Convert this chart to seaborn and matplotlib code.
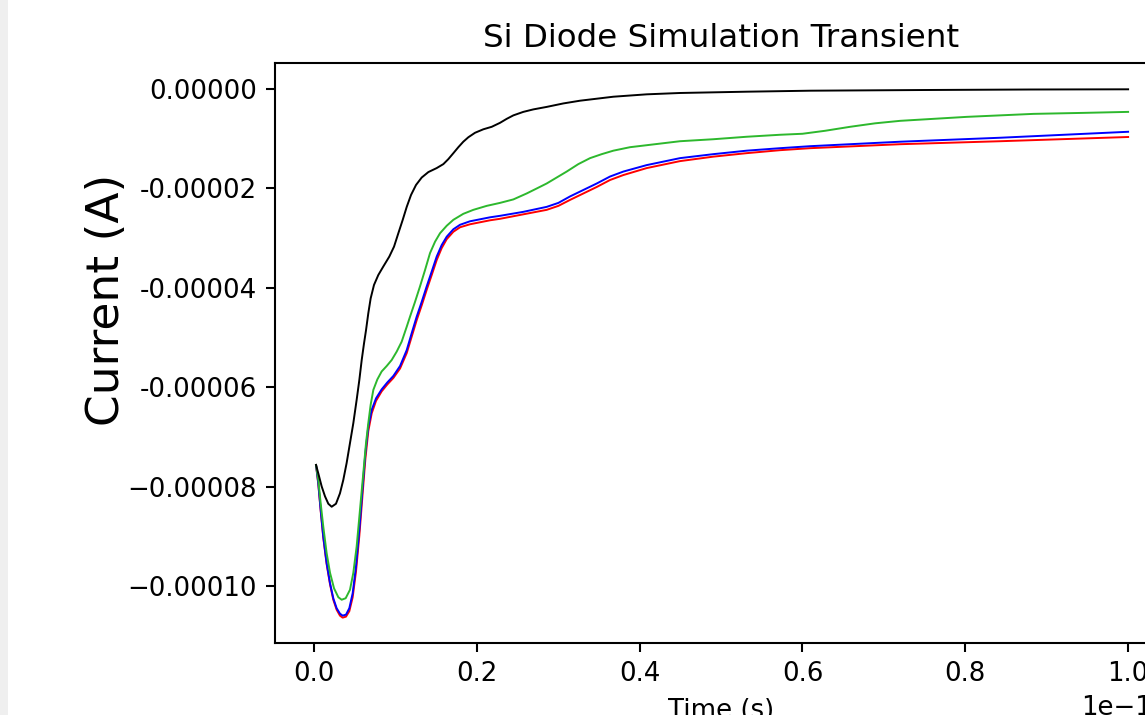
import numpy as np
import matplotlib
matplotlib.use("Agg")
import matplotlib.pyplot as plt
import seaborn as sns
from matplotlib.patches import Rectangle

# time in units of 1e-10 s, current in units of 1e-5 A
t_black = [0.0025, 0.0053, 0.0094, 0.0135, 0.0176, 0.0217, 0.027, 0.0319, 0.036, 0.0401,
           0.0442, 0.0483, 0.0524, 0.0557, 0.0586, 0.0614, 0.0639, 0.0667, 0.0696, 0.0737,
           0.079, 0.0851, 0.0925, 0.0983, 0.1036, 0.109, 0.1139, 0.1192, 0.1253, 0.1323,
           0.1405, 0.1507, 0.1589, 0.165, 0.1712, 0.1773, 0.1834, 0.1896, 0.1978, 0.208,
           0.2183, 0.2285, 0.2367, 0.2449, 0.2571, 0.2694, 0.2858, 0.3063, 0.3268, 0.3473,
           0.3677, 0.4087, 0.4496, 0.4905, 0.5315, 0.6093, 0.75, 0.88, 1.0]
i_black = [-7.56, -7.73, -7.99, -8.19, -8.34, -8.40, -8.34, -8.13, -7.86, -7.52,
           -7.12, -6.72, -6.25, -5.85, -5.45, -5.12, -4.85, -4.51, -4.21, -3.94,
           -3.74, -3.57, -3.37, -3.17, -2.90, -2.63, -2.37, -2.13, -1.93, -1.78,
           -1.67, -1.59, -1.51, -1.41, -1.29, -1.17, -1.06, -0.97, -0.88, -0.81,
           -0.76, -0.68, -0.60, -0.53, -0.46, -0.41, -0.36, -0.29, -0.235, -0.195,
           -0.155, -0.107, -0.08, -0.067, -0.054, -0.034, -0.02, -0.01, -0.006]

t_green = [0.0025, 0.0053, 0.0082, 0.0114, 0.0155, 0.0197, 0.0246, 0.0299, 0.034, 0.0389,
           0.0442, 0.0483, 0.0524, 0.0565, 0.0606, 0.0639, 0.0667, 0.0696, 0.0729, 0.0778,
           0.0831, 0.0893, 0.0954, 0.1016, 0.1077, 0.1139, 0.1179, 0.1241, 0.1302, 0.1364,
           0.1425, 0.1487, 0.1548, 0.163, 0.1712, 0.1834, 0.1957, 0.2121, 0.2285, 0.2449,
           0.2613, 0.2736, 0.2858, 0.2981, 0.3104, 0.3247, 0.3391, 0.3534, 0.3677, 0.3882,
           0.4087, 0.4496, 0.4905, 0.5315, 0.5725, 0.6, 0.6278, 0.6585, 0.6892, 0.7199,
           0.7608, 0.8018, 0.8428, 0.8837, 0.9451, 1.0]
i_green = [-7.56, -7.86, -8.33, -8.80, -9.33, -9.73, -10.04, -10.22, -10.27, -10.24,
           -10.07, -9.73, -9.20, -8.46, -7.72, -7.12, -6.72, -6.35, -6.05, -5.84,
           -5.68, -5.57, -5.45, -5.28, -5.08, -4.78, -4.58, -4.28, -3.97, -3.64,
           -3.30, -3.07, -2.90, -2.75, -2.63, -2.51, -2.43, -2.35, -2.29, -2.22,
           -2.10, -2.00, -1.90, -1.78, -1.66, -1.51, -1.39, -1.31, -1.24, -1.17,
           -1.13, -1.05, -1.01, -0.96, -0.92, -0.90, -0.84, -0.76, -0.69, -0.64,
           -0.60, -0.56, -0.53, -0.50, -0.48, -0.46]

t_bluered = [0.0025, 0.0053, 0.0082, 0.0114, 0.0155, 0.0197, 0.0237, 0.0278, 0.0319, 0.0352,
             0.0393, 0.0434, 0.0475, 0.0516, 0.0557, 0.0598, 0.0631, 0.0667, 0.0709, 0.0762,
             0.0831, 0.0901, 0.0975, 0.1057, 0.1139, 0.1200, 0.1261, 0.1323, 0.1384, 0.1446,
             0.1507, 0.1568, 0.1630, 0.1712, 0.1794, 0.1916, 0.2039, 0.2162, 0.2285, 0.2571,
             0.2858, 0.3002, 0.3145, 0.3309, 0.3473, 0.3636, 0.3800, 0.4087, 0.4496, 0.4905,
             0.5315, 0.5725, 0.6093, 0.7199, 0.8428, 1.0]
i_blue = [-7.56, -7.93, -8.46, -9.00, -9.53, -9.94, -10.24, -10.44, -10.55, -10.59,
          -10.57, -10.44, -10.14, -9.60, -8.86, -7.99, -7.32, -6.79, -6.45, -6.22,
          -6.04, -5.90, -5.77, -5.57, -5.25, -4.91, -4.58, -4.28, -3.97, -3.67,
          -3.37, -3.14, -2.97, -2.82, -2.73, -2.66, -2.62, -2.58, -2.55, -2.47,
          -2.37, -2.29, -2.16, -2.03, -1.90, -1.76, -1.66, -1.53, -1.39, -1.31,
          -1.24, -1.19, -1.15, -1.06, -0.98, -0.86]
i_red = [-7.56, -7.95, -8.48, -9.02, -9.55, -9.96, -10.27, -10.47, -10.59, -10.63,
         -10.61, -10.50, -10.22, -9.70, -8.98, -8.12, -7.44, -6.88, -6.52, -6.27,
         -6.08, -5.94, -5.81, -5.62, -5.31, -4.98, -4.65, -4.35, -4.04, -3.74,
         -3.44, -3.20, -3.02, -2.87, -2.78, -2.72, -2.68, -2.64, -2.61, -2.52,
         -2.43, -2.35, -2.23, -2.10, -1.97, -1.83, -1.73, -1.59, -1.45, -1.36,
         -1.29, -1.23, -1.19, -1.11, -1.05, -0.965]

ytick_vals = [0.0, -2e-5, -4e-5, -6e-5, -8e-5, -1e-4]
ytick_labels = ["0.00000", "-0.00002", "-0.00004", "-0.00006", "\u22120.00008", "\u22120.00010"]

DPI = 187
fig = plt.figure(figsize=(1145 / DPI, 715 / DPI), dpi=DPI)
ax = fig.add_axes([275 / 1145, 72 / 715, 893 / 1145, 580 / 715])

# grey strip at the left edge of the screenshot
fig.patches.append(Rectangle((0, 0), 8 / 1145, 1, transform=fig.transFigure,
                             facecolor="#efefef", edgecolor="none", zorder=-1))

lw = 0.75
curves = [(t_bluered, i_red, "red"), (t_bluered, i_blue, "blue"),
          (t_green, i_green, "#2db82d"), (t_black, i_black, "black")]
for t, cur, col in curves:
    sns.lineplot(x=np.array(t) * 1e-10, y=np.array(cur) * 1e-5, ax=ax,
                 color=col, lw=lw, sort=False, estimator=None,
                 solid_joinstyle="round")

ax.set_xlim(-0.0479e-10, 1.049e-10)
ax.set_ylim(-1.114e-4, 0.523e-5)
ax.set_yticks(ytick_vals)
ax.set_yticklabels(ytick_labels)

ax.set_title("Si Diode Simulation Transient", fontsize=12.5)
ax.set_xlabel("Time (s)", fontsize=10)
ax.set_ylabel("Current (A)", fontsize=17.5)
ax.yaxis.set_label_coords(-0.165, 0.591)

fig.savefig("out.png", dpi=DPI)
